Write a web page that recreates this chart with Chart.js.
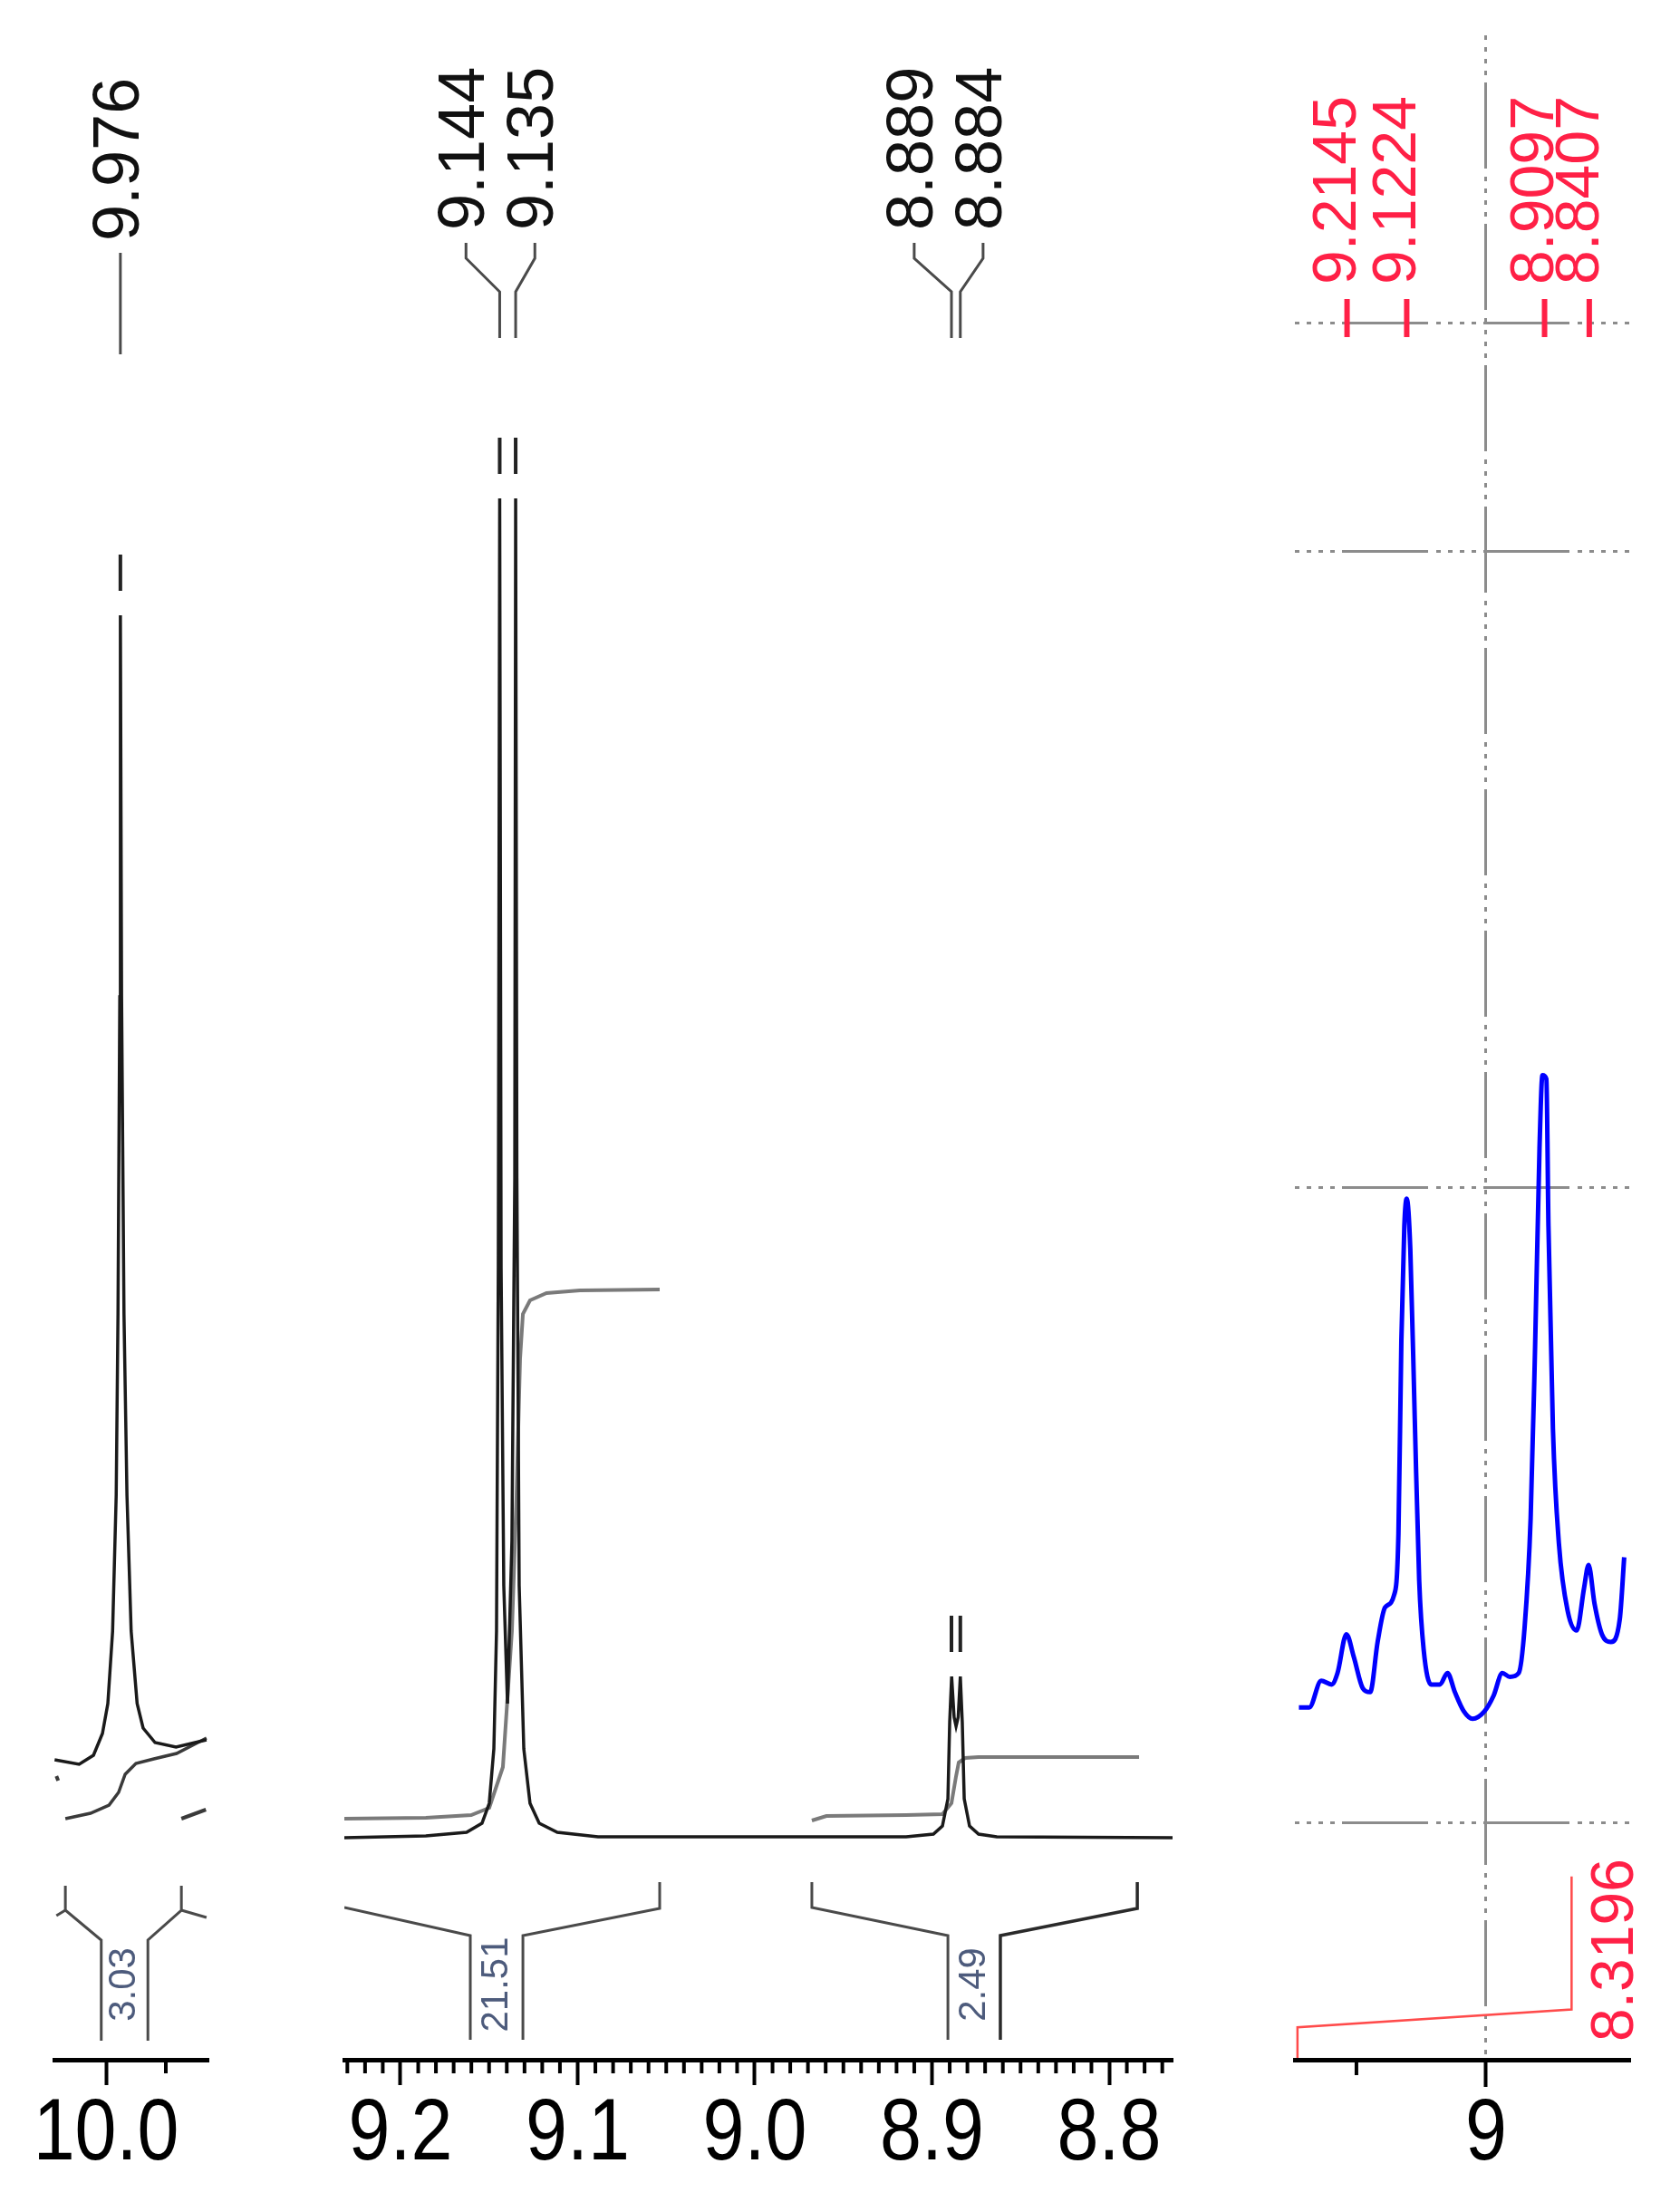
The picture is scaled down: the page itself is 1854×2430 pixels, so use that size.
<!DOCTYPE html>
<html>
<head>
<meta charset="utf-8">
<title>1H NMR detail</title>
<script src="https://cdn.jsdelivr.net/npm/chart.js@4.4.1/dist/chart.umd.min.js"></script>
<style>
  html, body { margin: 0; padding: 0; background: #fff; }
  #page { position: relative; width: 1854px; height: 2430px; }
  #page canvas { position: absolute; left: 0; top: 0; }
</style>
</head>
<body>
<div id="page">
  <canvas id="left" width="1854" height="2430"></canvas>
  <canvas id="mid" width="1854" height="2430"></canvas>
  <canvas id="zoom" width="1854" height="2430"></canvas>
</div>
<script>
// ---- values: [ppm, intensity] ----

// panel around 10 ppm
var leftTicks = [10.0];
var leftMinor = [9.9];
var leftPeaks = [9.976];
var leftSpectrum = [[10.086, 8.3], [10.045, 7.8], [10.021, 8.8], [10.006, 11.2], [9.997, 14.5], [9.989, 22.5],
    [9.983, 37.5], [9.980, 57.5], [9.977, 92.5], [9.976, 134.6], [9.974, 92.5], [9.970, 57.5], [9.965, 37.5],
    [9.958, 22.5], [9.948, 14.5], [9.938, 11.8], [9.918, 10.2], [9.883, 9.7], [9.832, 10.5]];
var leftIntegral = [[10.068, 1.8], [10.026, 2.4], [9.995, 3.3], [9.979, 4.7], [9.968, 6.7], [9.950, 7.9],
    [9.920, 8.4], [9.882, 9.0], [9.832, 10.7]];
var leftDot = [[10.083, 6.5], [10.080, 6.0]];
var leftDash = [[9.874, 1.8], [9.833, 2.8]];

// panel 9.2 - 8.8 ppm
var midTicks = [9.2, 9.1, 9.0, 8.9, 8.8];
var midPeaks = [9.144, 9.135, 8.889, 8.884];
var midSpectrum = [[9.2317, -0.3], [9.1857, -0.1], [9.1627, 0.3], [9.1540, 1.3], [9.1499, 3.5], [9.1473, 9.5],
    [9.1458, 22.5], [9.1448, 62.5], [9.1440, 147.5], [9.1432, 62.5], [9.1417, 27.5], [9.1396, 14.5],
    [9.1371, 32.5], [9.1355, 72.5], [9.1350, 147.5], [9.1343, 72.5], [9.1330, 27.5], [9.1304, 9.5],
    [9.1269, 3.5], [9.1217, 1.3], [9.1115, 0.3], [9.0885, -0.2], [9.0169, -0.2], [8.9146, -0.2],
    [8.8992, 0.1], [8.8941, 1.0], [8.8910, 4.0], [8.8900, 12.5], [8.8889, 17.5], [8.8875, 13.0],
    [8.8864, 12.0], [8.8852, 13.0], [8.8840, 17.5], [8.8829, 12.5], [8.8818, 4.0], [8.8788, 1.0],
    [8.8737, 0.1], [8.8634, -0.2], [8.7642, -0.3]];
var midIntegral1 = [[9.2317, 1.8], [9.1857, 1.9], [9.1601, 2.2], [9.1499, 3.0], [9.1422, 7.5], [9.1371, 22.5],
    [9.1345, 37.5], [9.1325, 52.5], [9.1309, 57.5], [9.1269, 59.0], [9.1176, 59.8], [9.0987, 60.1], [9.0537, 60.2]];
var midIntegral2 = [[8.9678, 1.6], [8.9596, 2.1], [8.9146, 2.2], [8.8941, 2.3], [8.8890, 3.5], [8.8864, 6.5],
    [8.8849, 8.0], [8.8813, 8.5], [8.8737, 8.6], [8.7831, 8.6]];

// integration brackets
var integralValues = [3.03, 21.51, 2.49];
var b1Left = [[10.068, -5.6], [10.068, -8.3], [10.008, -11.6], [10.008, -22.7]];
var b1Right = [[9.930, -22.7], [9.930, -11.6], [9.874, -8.3], [9.874, -5.6]];
var b1StubL = [[10.068, -8.3], [10.083, -8.9]];
var b1StubR = [[9.874, -8.3], [9.832, -9.1]];
var b2Left = [[9.2317, -8.0], [9.1606, -11.1], [9.1606, -22.6]];
var b2Right = [[9.1309, -22.6], [9.1309, -11.1], [9.0537, -8.1], [9.0537, -5.2]];
var b3Left = [[8.9678, -5.2], [8.9678, -8.0], [8.8910, -11.1], [8.8910, -22.6]];
var b3Right = [[8.8614, -22.6], [8.8614, -11.1], [8.7841, -8.1], [8.7841, -5.2]];

// zoomed panel (blue)
var rightTicks = [9];
var rightMinor = [9.2];
var rightGridLevels = [0, 100, 200, 235.8];
var redPeaks = [9.2145, 9.1224, 8.9097, 8.8407];
var redIntegralValue = 8.3196;
var redIntegral = [[9.291, -36.9], [9.291, -32.1], [8.868, -29.3], [8.868, -8.4]];
var blueTrace = [[9.2888, 18.2], [9.2728, 18.2], [9.2544, 22.4], [9.2384, 21.8], [9.2292, 23.6], [9.2155, 29.7],
    [9.2040, 26.1], [9.1902, 21.2], [9.1788, 20.6], [9.1673, 28.5], [9.1559, 33.9], [9.1421, 35.8],
    [9.1352, 45.5], [9.1307, 75.8], [9.1261, 93.9], [9.1224, 98.2], [9.1169, 90.3], [9.1100, 63.6],
    [9.1032, 38.2], [9.0963, 27.3], [9.0848, 21.8], [9.0711, 21.8], [9.0596, 23.6], [9.0481, 20.6],
    [9.0344, 17.6], [9.0207, 16.4], [9.0023, 17.6], [8.9885, 20.0], [8.9748, 23.6], [8.9633, 23.0],
    [8.9496, 23.6], [8.9404, 30.9], [8.9312, 47.9], [8.9244, 74.5], [8.9175, 106.1], [8.9129, 117.6],
    [8.9069, 117.0], [8.9037, 93.9], [8.8968, 62.0], [8.8876, 44.0], [8.8739, 33.3], [8.8601, 30.3],
    [8.8487, 37.0], [8.8418, 40.6], [8.8326, 34.5], [8.8212, 29.7], [8.8074, 28.5], [8.7936, 32.1],
    [8.7868, 41.8]];

// ---- drawing ----
var FONT = '"Liberation Sans", Arial, sans-serif';
var RED = '#ff2046';
var GRAY = '#8c8c8c';
var DASH = [5, 8, 5, 8, 5, 8, 5, 8, 95, 9];
Chart.defaults.font.family = FONT;
Chart.defaults.color = '#000';

function pts(arr) {
    return arr.map(function (p) { return {x: p[0], y: p[1]}; });
}

function ds(arr, color, width, extra) {
    return Object.assign({
        data: pts(arr), borderColor: color, borderWidth: width,
        pointRadius: 0, fill: false, tension: 0
    }, extra || {});
}

function line(ctx, path, color, width) {
    ctx.save();
    ctx.strokeStyle = color;
    ctx.lineWidth = width;
    ctx.beginPath();
    path.forEach(function (p, i) { if (i) ctx.lineTo(p[0], p[1]); else ctx.moveTo(p[0], p[1]); });
    ctx.stroke();
    ctx.restore();
}

// rotated text, reads bottom to top
function vtext(ctx, s, x, y, size, color, align) {
    ctx.save();
    ctx.translate(x, y);
    ctx.rotate(-Math.PI / 2);
    ctx.font = size + 'px ' + FONT;
    ctx.fillStyle = color;
    ctx.textAlign = align || 'left';
    ctx.textBaseline = 'middle';
    ctx.fillText(s, 0, 0);
    ctx.restore();
}

function groupPeaks(list) {
    var groups = [];
    list.forEach(function (p) {
        var g = groups[groups.length - 1];
        if (g && Math.abs(g[g.length - 1] - p) < 0.02) g.push(p);
        else groups.push([p]);
    });
    return groups;
}

var decor = {
    id: 'decor',
    afterDatasetsDraw: function (chart, args, o) {
        var ctx = chart.ctx, a = chart.chartArea, xs = chart.scales.x, ys = chart.scales.y;

        // minor ticks
        (o.minor || []).forEach(function (v) {
            var px = xs.getPixelForValue(v);
            line(ctx, [[px, a.bottom], [px, a.bottom + o.minorLen]], '#000', 4);
        });

        // tick labels: tall, slightly narrow digits like the original plot
        if (o.fmt) {
            xs.ticks.forEach(function (t) {
                var px = xs.getPixelForValue(t.value);
                ctx.save();
                ctx.translate(px, a.bottom + 84);
                ctx.scale(0.86, 1);
                ctx.font = '96px ' + FONT;
                ctx.fillStyle = '#000';
                ctx.textAlign = 'center';
                ctx.textBaseline = 'middle';
                ctx.fillText(o.fmt(t.value), 0, 0);
                ctx.restore();
            });
        }

        // peak labels with connectors + break marks
        if (o.peaks) {
            var trace = chart.data.datasets[0].data;
            groupPeaks(o.peaks).forEach(function (g) {
                var pxs = g.map(function (p) { return xs.getPixelForValue(p); });
                var mid = pxs.reduce(function (s, v) { return s + v; }, 0) / g.length;
                g.forEach(function (p, i) {
                    var px = pxs[i];
                    var top = Infinity;
                    trace.forEach(function (pt) {
                        if (Math.abs(pt.x - p) < 0.0012) top = Math.min(top, ys.getPixelForValue(pt.y));
                    });
                    line(ctx, [[px, top - 67], [px, top - 27]], '#222', 4);
                    if (g.length > 1) {
                        var lx = mid - 8 + (i - (g.length - 1) / 2) * 76;
                        line(ctx, [[lx, 268], [lx, 285], [px, 322], [px, 373]], '#4a4a4a', 3);
                        vtext(ctx, p.toFixed(3), lx, 254, 72, '#111');
                    } else {
                        line(ctx, [[px, 279], [px, 391]], '#4a4a4a', 3);
                        vtext(ctx, p.toFixed(3), px, 266, 72, '#111');
                    }
                });
            });
        }

        // integral values inside the brackets
        (o.brackets || []).forEach(function (b) {
            var x1 = xs.getPixelForValue(b.left[b.left.length - 1][0]);
            var x2 = xs.getPixelForValue(b.right[0][0]);
            vtext(ctx, b.value.toFixed(2), (x1 + x2) / 2, ys.getPixelForValue(-16.5), 42, '#4d5b7c', 'center');
        });

        // red peak picking
        (o.red || []).forEach(function (v) {
            var px = xs.getPixelForValue(v);
            line(ctx, [[px, 330], [px, 372]], RED, 6);
            vtext(ctx, v.toFixed(4), px - 9, 314, 68, RED);
        });
        if (o.redIntegral) {
            var r = o.redIntegral;
            var rx = xs.getPixelForValue(r.line[r.line.length - 1][0]);
            vtext(ctx, r.value.toFixed(4), rx + 49, a.bottom - 20, 66, RED);
        }
    }
};

function xAxis(min, max, ticks, tickLen, extra) {
    return Object.assign({
        type: 'linear', reverse: true, min: min, max: max,
        afterBuildTicks: function (s) { s.ticks = ticks.map(function (v) { return {value: v}; }); },
        afterFit: function (s) { s.height = 157; },
        grid: { drawOnChartArea: false, drawTicks: true, tickLength: tickLen, tickWidth: 4, tickColor: '#000' },
        border: { display: true, color: '#000', width: 5 },
        ticks: { display: false }
    }, extra || {});
}

function oneDecimal(v) { return v.toFixed(1); }

var hiddenY = { type: 'linear', display: false, min: -24.8, max: 198.6 };

// panel 1 : 10 ppm
var chartLeft = new Chart(document.getElementById('left'), {
    type: 'line',
    data: {
        datasets: [
            ds(leftSpectrum, '#1a1a1a', 3.5),
            ds(leftIntegral, '#3a3a3a', 3.5),
            ds(leftDot, '#3a3a3a', 4),
            ds(leftDash, '#3a3a3a', 4),
            ds(b1Left, '#4a4a4a', 3),
            ds(b1Right, '#4a4a4a', 3),
            ds(b1StubL, '#4a4a4a', 3),
            ds(b1StubR, '#4a4a4a', 3)
        ]
    },
    options: {
        responsive: false, animation: false, events: [],
        layout: { padding: { left: 60, right: 1854 - 230, top: 39, bottom: 0 } },
        plugins: {
            legend: { display: false }, tooltip: { enabled: false },
            decor: { minor: leftMinor, minorLen: 15, peaks: leftPeaks, fmt: oneDecimal,
                brackets: [{ value: integralValues[0], left: b1Left, right: b1Right }] }
        },
        scales: {
            x: xAxis(9.8288, 10.0864, leftTicks, 28),
            y: hiddenY
        }
    },
    plugins: [decor]
});

// panel 2 : 9.2 - 8.8 ppm
var midMinor = [];
for (let k = 877; k <= 923; k++) {
    if (k % 10 !== 0) midMinor.push(k / 100);
}
var chartMid = new Chart(document.getElementById('mid'), {
    type: 'line',
    data: {
        datasets: [
            ds(midSpectrum, '#1a1a1a', 3.5),
            ds(midIntegral1, '#7a7a7a', 4),
            ds(midIntegral2, '#7a7a7a', 4),
            ds(b2Left, '#4a4a4a', 3),
            ds(b2Right, '#4a4a4a', 3),
            ds(b3Left, '#4a4a4a', 3),
            ds(b3Right, '#2a2a2a', 3.5)
        ]
    },
    options: {
        responsive: false, animation: false, events: [],
        layout: { padding: { left: 380, right: 1854 - 1294, top: 39, bottom: 0 } },
        plugins: {
            legend: { display: false }, tooltip: { enabled: false },
            decor: { minor: midMinor, minorLen: 15, peaks: midPeaks, fmt: oneDecimal,
                brackets: [{ value: integralValues[1], left: b2Left, right: b2Right },
                           { value: integralValues[2], left: b3Left, right: b3Right }] }
        },
        scales: {
            x: xAxis(8.7642, 9.2317, midTicks, 28),
            y: hiddenY
        }
    },
    plugins: [decor]
});

// panel 3 : zoomed trace in blue
var chartZoom = new Chart(document.getElementById('zoom'), {
    type: 'line',
    data: {
        datasets: [
            ds(blueTrace, '#0000ff', 5, { tension: 0.4, cubicInterpolationMode: 'monotone' }),
            ds(redIntegral, '#ff4b4b', 2.5)
        ]
    },
    options: {
        responsive: false, animation: false, events: [],
        layout: { padding: { left: 1429, right: 1854 - 1798, top: 39, bottom: 0 } },
        plugins: {
            legend: { display: false }, tooltip: { enabled: false },
            decor: { minor: rightMinor, minorLen: 17, red: redPeaks, fmt: function (v) { return String(v); },
                redIntegral: { value: redIntegralValue, line: redIntegral } }
        },
        scales: {
            x: xAxis(8.779, 9.295, rightTicks, 30, {
                grid: { drawOnChartArea: true, color: GRAY, lineWidth: 3, drawTicks: true,
                        tickLength: 30, tickWidth: 4, tickColor: '#000', tickBorderDash: [] },
                border: { display: true, color: '#000', width: 5, dash: DASH }
            }),
            y: {
                type: 'linear', min: -37.2, max: 281.1,
                afterBuildTicks: function (s) { s.ticks = rightGridLevels.map(function (v) { return {value: v}; }); },
                afterFit: function (s) { s.width = 0; },
                ticks: { display: false },
                grid: { color: GRAY, lineWidth: 3, drawTicks: false },
                border: { display: false, dash: DASH }
            }
        }
    },
    plugins: [decor]
});
</script>
</body>
</html>
